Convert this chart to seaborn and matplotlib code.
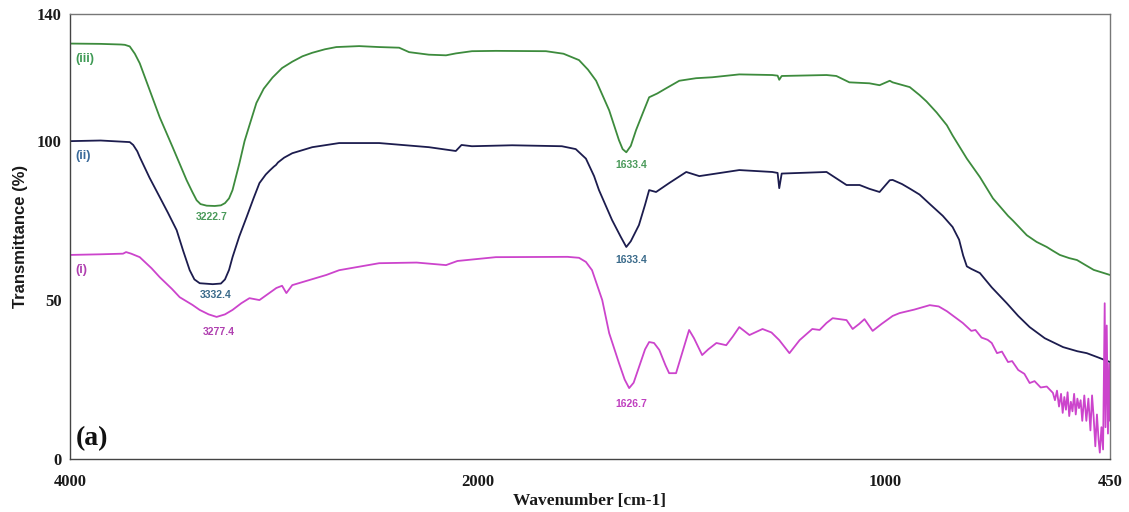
import numpy as np
import pandas as pd
import matplotlib
matplotlib.use("Agg")
import matplotlib.pyplot as plt
import seaborn as sns

# ---------------- data ----------------
wn_iii = [4000, 3850, 3750, 3731, 3707, 3682, 3658, 3609, 3560, 3496, 3428, 3400, 3379, 3360,
          3330, 3290, 3260, 3240, 3220, 3203, 3169, 3144, 3120, 3086, 3050, 3007, 2960, 2910,
          2860, 2812, 2750, 2694, 2582, 2484, 2386, 2337, 2240, 2156, 2108, 2029, 1956, 1833,
          1790, 1752, 1730, 1710, 1678, 1654, 1645, 1636, 1625, 1612, 1595, 1580, 1560, 1540,
          1506, 1465, 1425, 1359, 1278, 1265, 1261, 1255, 1145, 1121, 1089, 1040, 1015, 990,
          983, 941, 917, 900, 875, 850, 836, 801, 769, 737, 700, 688, 654, 630, 605, 590, 573,
          550, 531, 510, 490, 470, 450]
t_iii = [130.7, 130.6, 130.4, 130.3, 129.8, 127.5, 124.5, 116.0, 107.5, 98.0, 87.7, 84.0, 81.4, 80.2,
         79.7, 79.6, 79.8, 80.5, 82.0, 84.6, 93.1, 100.0, 105.0, 112.0, 116.5, 120.0, 123.0, 125.0,
         126.7, 127.8, 128.9, 129.6, 129.9, 129.6, 129.4, 128.0, 127.2, 127.0, 127.6, 128.3, 128.4, 128.3,
         127.5, 125.5, 122.5, 119.0, 109.7, 100.3, 97.5, 96.5, 98.5, 103.5, 109.0, 113.8, 115.0, 116.5,
         119.0, 119.8, 120.1, 121.0, 120.8, 120.6, 119.3, 120.5, 120.8, 120.5, 118.5, 118.2, 117.6, 119.0,
         118.5, 117.0, 114.5, 112.5, 109.0, 105.0, 101.8, 94.5, 88.7, 82.0, 76.5, 75.0, 70.4, 68.3, 66.7, 65.5, 64.2,
         63.2, 62.6, 61.0, 59.5, 58.7, 57.9]

wn_ii = [4000, 3850, 3707, 3690, 3670, 3658, 3610, 3560, 3520, 3477, 3445, 3413, 3390, 3364,
         3300, 3260, 3240, 3220, 3203, 3170, 3134, 3100, 3071, 3040, 3020, 3000, 2990, 2980,
         2950, 2910, 2812, 2680, 2484, 2240, 2108, 2080, 2029, 1916, 1794, 1760, 1735, 1715,
         1703, 1671, 1650, 1636, 1625, 1605, 1590, 1580, 1563, 1531, 1489, 1457, 1359, 1278,
         1265, 1261, 1255, 1145, 1096, 1064, 1040, 1015, 990, 983, 960, 940, 917, 890, 860,
         836, 820, 810, 801, 790, 769, 740, 703, 675, 647, 610, 565, 530, 507, 480, 450]
t_ii = [100.0, 100.2, 99.7, 98.8, 96.8, 95.0, 88.5, 82.4, 77.5, 72.0, 65.5, 59.4, 56.5, 55.3,
        55.0, 55.2, 56.5, 59.5, 63.5, 70.0, 76.1, 82.0, 86.8, 89.5, 90.8, 92.0, 92.5, 93.3,
        94.8, 96.2, 98.1, 99.4, 99.4, 98.1, 96.9, 98.8, 98.4, 98.7, 98.4, 97.5, 94.5, 89.0,
        84.6, 75.2, 70.0, 66.7, 68.5, 73.6, 80.0, 84.6, 84.0, 86.8, 90.3, 89.0, 90.9, 90.3,
        90.0, 85.2, 89.8, 90.3, 86.2, 86.2, 85.0, 84.0, 87.7, 87.8, 86.5, 85.0, 83.2, 80.0, 76.5,
        73.0, 69.0, 64.0, 60.6, 59.8, 58.5, 54.0, 49.0, 45.0, 41.5, 38.0, 35.2, 33.9, 33.3, 32.0, 30.5]

wn_i = [4000, 3850, 3740, 3725, 3700, 3658, 3600, 3560, 3500, 3462, 3400, 3364, 3320, 3281,
        3240, 3203, 3160, 3120, 3071, 2988, 2960, 2939, 2910, 2743, 2680, 2484, 2300, 2156,
        2100, 1956, 1780, 1752, 1735, 1720, 1695, 1678, 1654, 1640, 1629, 1618, 1605, 1590,
        1580, 1568, 1555, 1540, 1531, 1514, 1500, 1482, 1470, 1450, 1435, 1415, 1391, 1375,
        1359, 1334, 1302, 1280, 1261, 1236, 1211, 1180, 1162, 1145, 1130, 1096, 1081, 1065,
        1052, 1032, 1010, 983, 966, 930, 892, 870, 850, 811, 790, 780, 765, 750, 740, 727,
        715, 700, 690, 675, 660, 647, 635, 620, 605, 590, 585, 580, 575, 570, 566, 562, 558,
        554, 550, 546, 542, 538, 534, 530, 526, 522, 518, 513, 508, 503, 498, 494, 490, 486,
        482, 478, 475, 471, 467, 463, 461, 458, 455, 452, 450]
t_i = [64.2, 64.4, 64.6, 65.1, 64.6, 63.5, 60.0, 57.2, 53.5, 50.9, 48.5, 46.9, 45.5, 44.7,
       45.5, 46.9, 49.0, 50.6, 50.0, 53.8, 54.5, 52.2, 54.7, 57.9, 59.4, 61.6, 61.8, 61.0,
       62.3, 63.5, 63.6, 63.3, 62.0, 59.4, 50.0, 39.6, 30.2, 25.0, 22.3, 24.0, 28.9, 34.5,
       36.8, 36.5, 34.3, 29.5, 27.0, 27.0, 33.0, 40.6, 38.0, 32.7, 34.5, 36.5, 35.8, 38.5,
       41.5, 39.0, 40.9, 39.8, 37.4, 33.3, 37.4, 40.9, 40.6, 42.8, 44.3, 43.7, 40.9, 42.5,
       44.0, 40.3, 42.5, 45.0, 45.9, 47.0, 48.4, 48.0, 46.5, 42.8, 40.3, 40.6, 38.2, 37.5, 36.5, 33.3,
       33.8, 30.5, 30.8, 28.0, 26.8, 23.9, 24.5, 22.5, 22.8, 20.8, 18.5, 21.5, 16.5, 20.5, 14.5, 19.5, 15.5,
       21.0, 13.5, 18.0, 15.0, 20.5, 14.0, 19.0, 16.0, 18.5, 12.0, 20.0, 12.0, 19.0, 9.0, 20.0, 13.0, 4.0,
       14.0, 6.0, 2.0, 10.0, 3.0, 49.0, 10.0, 42.0, 8.0, 30.0, 12.0]

series_names = ["(iii)", "(ii)", "(i)"]
peak_labels = ["3222.7", "3332.4", "3277.4", "1633.4", "1633.4", "1626.7"]

x_major = [4000, 2000, 1000, 450]
x_minor = [3000, 1500, 500]
y_major = [0, 50, 100, 140]
y_minor = [25, 75, 125]

# ---------------- figure ----------------
sns.set_style("white")
plt.rcParams["font.family"] = ["Liberation Serif", "DejaVu Serif"]

fig = plt.figure(figsize=(11.29, 5.12), dpi=100)
ax = fig.add_axes([70 / 1129, 1 - 459 / 512, 1040 / 1129, 445 / 512])

c_green = "#3d8b3d"
c_navy = "#1c1c4e"
c_mag = "#cc44cc"

df = pd.concat([
    pd.DataFrame({"wn": wn_iii, "T": t_iii, "s": series_names[0]}),
    pd.DataFrame({"wn": wn_ii, "T": t_ii, "s": series_names[1]}),
    pd.DataFrame({"wn": wn_i, "T": t_i, "s": series_names[2]}),
])

sns.lineplot(data=df, x="wn", y="T", hue="s",
             palette={series_names[0]: c_green, series_names[1]: c_navy, series_names[2]: c_mag},
             linewidth=1.3, legend=False, sort=True, estimator=None, ax=ax)


def fwd(x):
    x = np.asarray(x, dtype=float)
    return np.where(x <= 2000, x, 2000 + (x - 2000) / 2.0)


def inv(y):
    y = np.asarray(y, dtype=float)
    return np.where(y <= 2000, y, 2000 + 2.0 * (y - 2000))


ax.set_xscale("function", functions=(fwd, inv))
ax.set_xlim(4000, 450)
ax.set_ylim(0, 140)

ax.set_xticks(x_major)
ax.set_xticklabels([str(v) for v in x_major])
ax.set_xticks(x_minor, minor=True)
ax.set_yticks(y_major)
ax.set_yticklabels([str(v) for v in y_major])
ax.set_yticks(y_minor, minor=True)

ax.tick_params(axis="x", which="major", direction="in", length=5, width=0.8,
               colors="#555555", labelcolor="#1a1a1a", labelsize=12, pad=11)
ax.tick_params(axis="x", which="minor", direction="in", length=4, width=0.8, colors="#555555")
ax.tick_params(axis="y", which="major", direction="out", length=4, width=0.8,
               colors="#555555", labelcolor="#1a1a1a", labelsize=12, pad=2)
ax.tick_params(axis="y", which="minor", direction="in", length=3, width=0.8, colors="#555555")
for lab in ax.get_xticklabels() + ax.get_yticklabels():
    lab.set_fontweight("bold")

for side in ["left", "bottom"]:
    ax.spines[side].set_color("#444444")
    ax.spines[side].set_linewidth(1.0)
for side in ["top", "right"]:
    ax.spines[side].set_color("#777777")
    ax.spines[side].set_linewidth(1.0)

ax.set_xlabel("Wavenumber [cm-1]", fontsize=12.5, fontweight="bold", color="#1a1a1a", labelpad=2)
ax.set_ylabel("Transmittance (%)", fontsize=12, fontweight="bold", color="#1a1a1a",
              family=["Liberation Sans", "DejaVu Sans"], labelpad=6)

sans = ["Liberation Sans", "DejaVu Sans"]
ax.text(3975, 125.8, series_names[0], color="#3f9a55", fontsize=9, fontweight="bold",
        family=sans, ha="left", va="center")
ax.text(3975, 95.3, series_names[1], color="#3a6a9a", fontsize=9, fontweight="bold",
        family=sans, ha="left", va="center")
ax.text(3975, 59.4, series_names[2], color="#b040b0", fontsize=9, fontweight="bold",
        family=sans, ha="left", va="center")

pk_pos = [(3306, 76.1, "#4a9a5a"), (3286, 51.6, "#3a6a8a"), (3271, 39.9, "#b040b0"),
          (1624, 92.5, "#4a9a5a"), (1624, 62.6, "#3a6a8a"), (1624, 17.3, "#c040c0")]
for lab, (xx, yy, cc) in zip(peak_labels, pk_pos):
    ax.text(xx, yy, lab, color=cc, fontsize=7.5, fontweight="bold", family=sans,
            ha="center", va="center")

ax.text(3972, 6.5, "(a)", fontsize=20, fontweight="bold", color="#111111",
        ha="left", va="center")

fig.savefig("out.png", dpi=100)
